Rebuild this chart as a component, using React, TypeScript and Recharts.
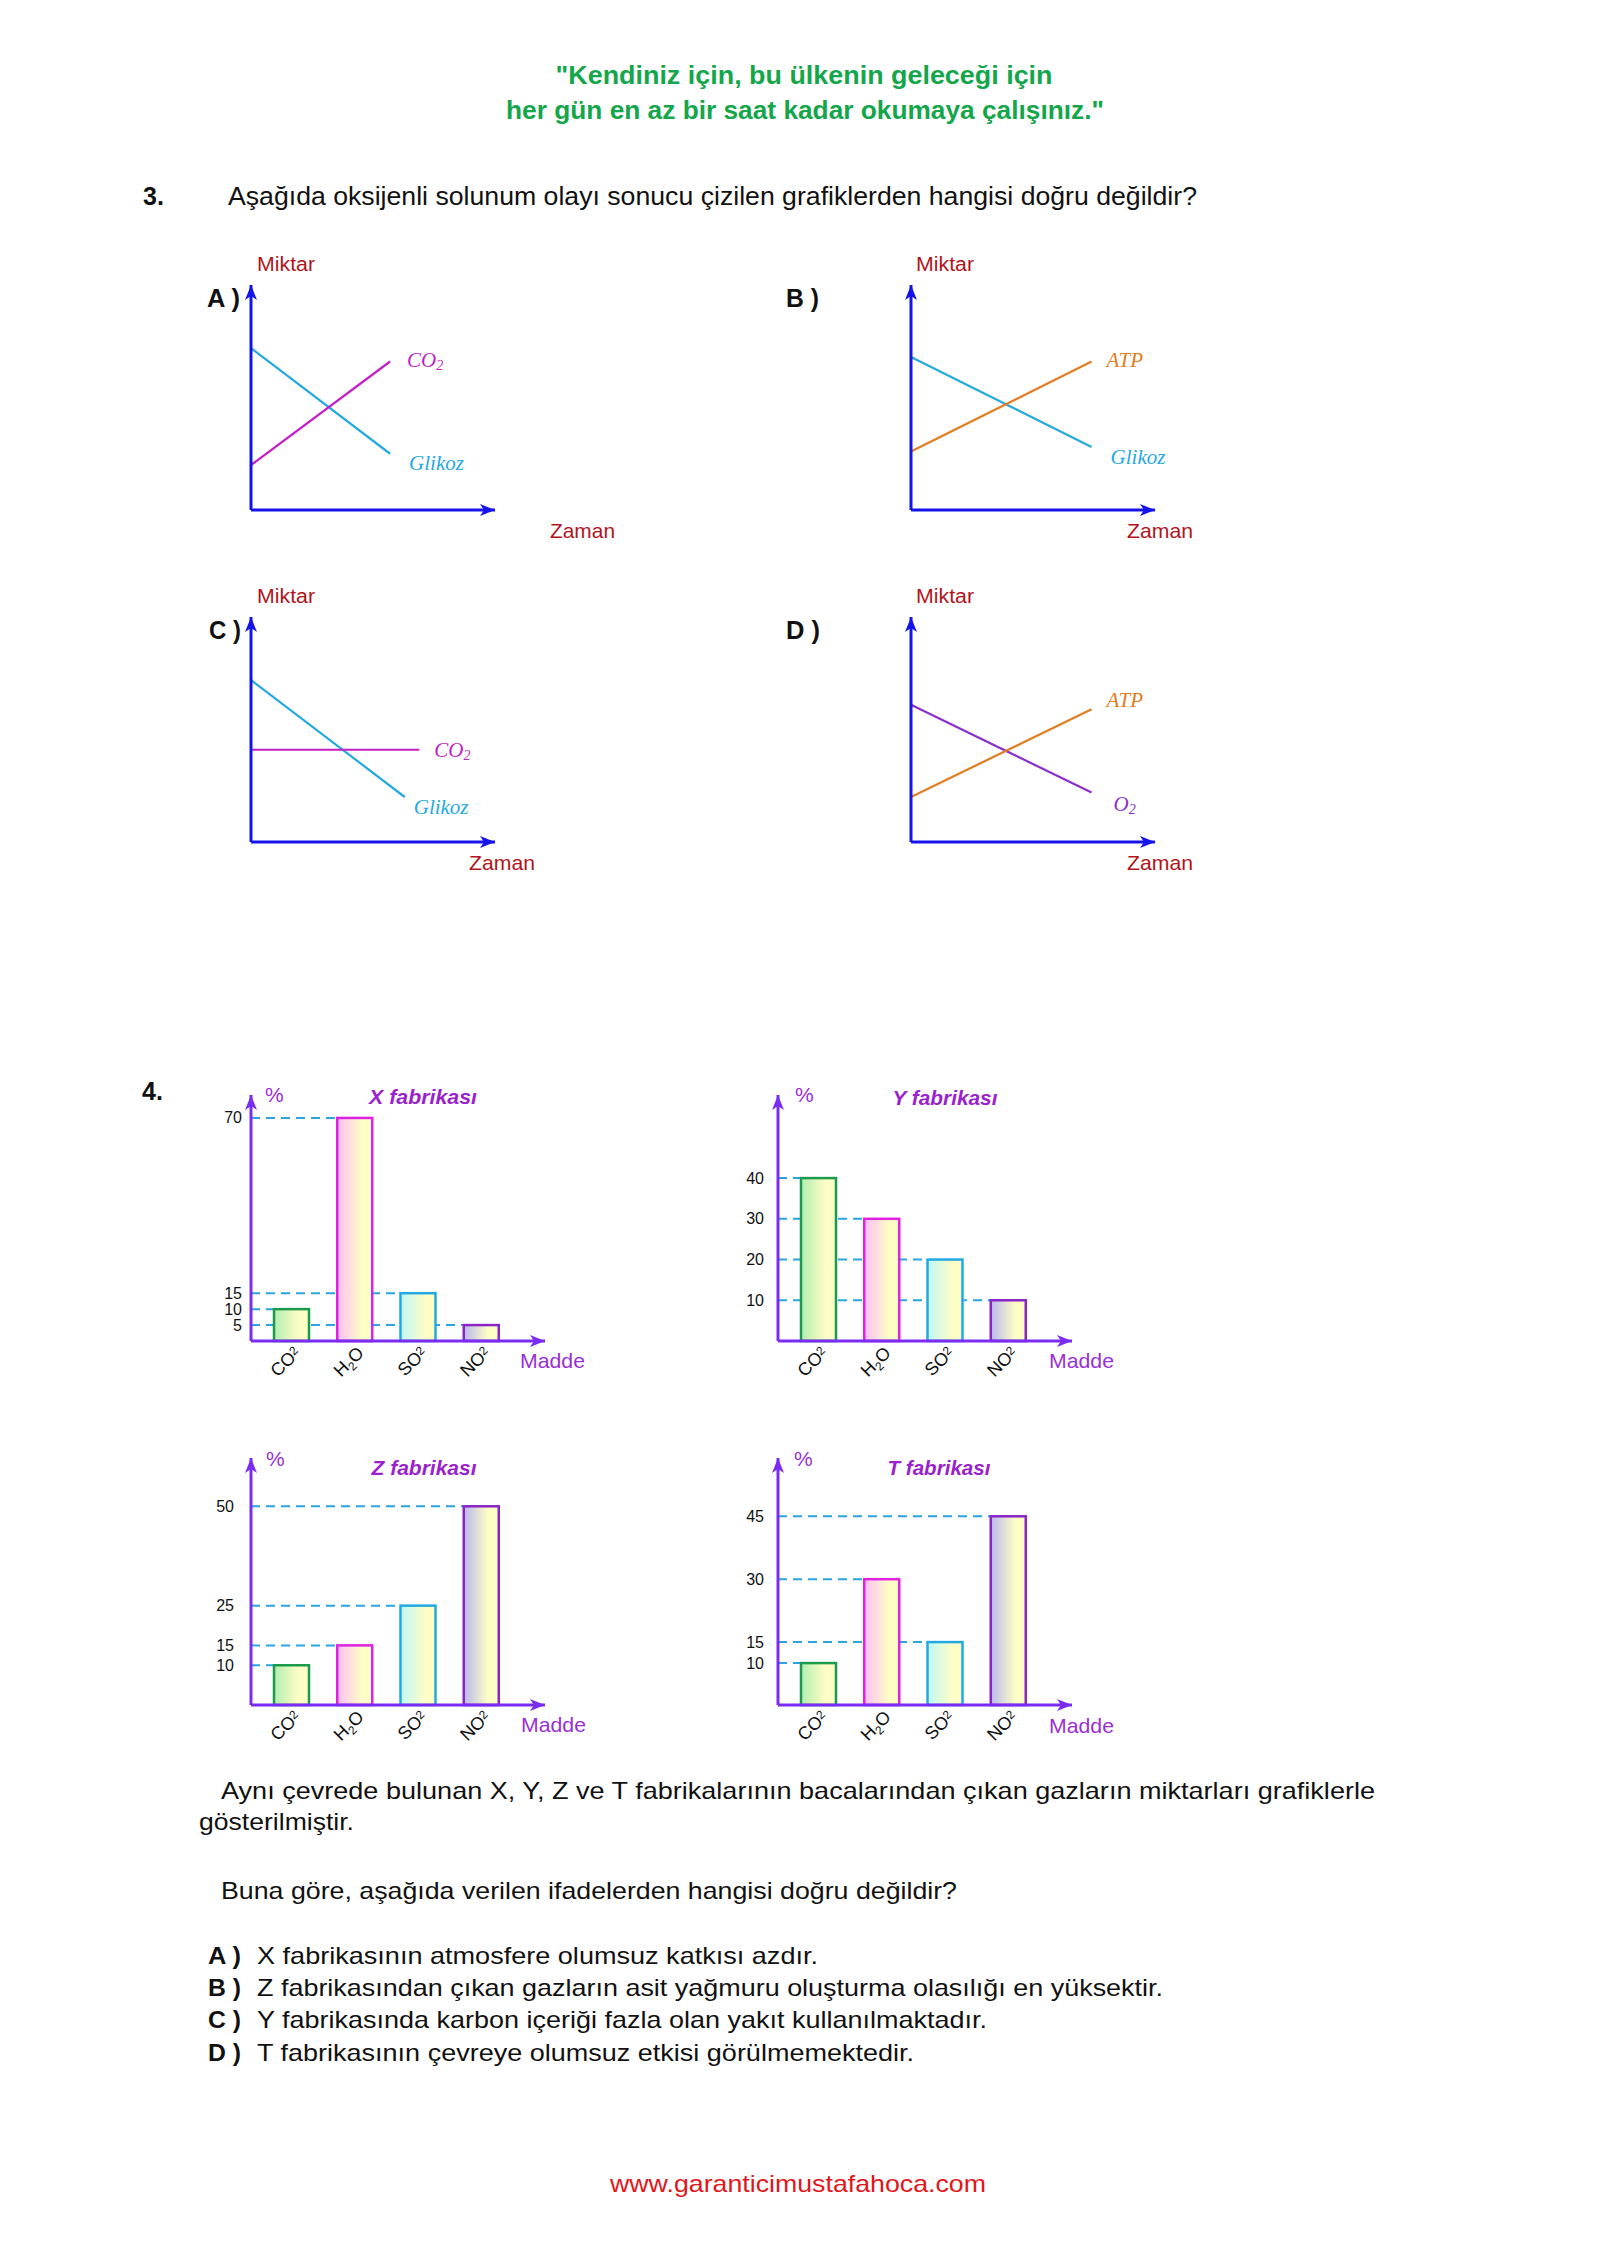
import React from 'react';
import { LineChart, Line, XAxis, YAxis, BarChart, Bar } from 'recharts';

const SANS = '"Liberation Sans", Arial, sans-serif';
const SERIF = '"Liberation Serif", "Times New Roman", serif';

// ---------- Question 3 : line graphs (t = time, v = amount) ----------
const glikozA = [{ t: 0, v: 72 }, { t: 5.7, v: 25 }];
const co2A = [{ t: 0, v: 20 }, { t: 5.7, v: 66 }];
const glikozB = [{ t: 0, v: 68 }, { t: 7.4, v: 28 }];
const atpB = [{ t: 0, v: 26 }, { t: 7.4, v: 66 }];
const glikozC = [{ t: 0, v: 72 }, { t: 6.3, v: 20 }];
const co2C = [{ t: 0, v: 41 }, { t: 6.9, v: 41 }];
const o2D = [{ t: 0, v: 61 }, { t: 7.4, v: 22 }];
const atpD = [{ t: 0, v: 20 }, { t: 7.4, v: 59 }];

// ---------- Question 4 : bar graphs ----------
const gases = ['CO2', 'H2O', 'SO2', 'NO2'];
const xFactory = [10, 70, 15, 5];
const yFactory = [40, 30, 20, 10];
const zFactory = [10, 15, 25, 50];
const tFactory = [10, 30, 15, 45];
const xTicks = [5, 10, 15, 70];
const yTicks = [10, 20, 30, 40];
const zTicks = [10, 15, 25, 50];
const tTicks = [10, 15, 30, 45];

// ---------- colours ----------
const BLUE = '#1414ea';
const CYAN = '#25a9df';
const MAGENTA = '#c21fc4';
const ORANGE = '#e27d22';
const PURPLE_LINE = '#8c2fcc';
const DARKRED = '#b3141c';
const VIOLET = '#7a2cf2';
const TITLE_PURPLE = '#9a22cc';
const LABEL_PURPLE = '#9a2fd5';
const DASH = '#2aa5e0';
const GREEN = '#14a64b';
const RED = '#e2161b';
const INK = '#111111';
const gasStroke = ['#1b9a4c', '#e021df', '#22a9e2', '#8a25c8'];
const gasFill = ['#b3eeb0', '#ffbff7', '#bff9f6', '#b9b9ef'];
const PALE = '#fdfdc6';

type Pt = { t: number; v: number };
type Series = { data: Pt[]; color: string; name: string; sub?: string; dx: number; dy: number };

type TextItem = {
  s: string; x: number; y: number; size: number; color?: string;
  bold?: boolean; italic?: boolean; len?: number; anchor?: 'start' | 'middle' | 'end';
};

const pageTexts: TextItem[] = [
  { s: '"Kendiniz için, bu ülkenin geleceği için', x: 804, y: 84, size: 26, bold: true, color: GREEN, len: 497, anchor: 'middle' },
  { s: 'her gün en az bir saat kadar okumaya çalışınız."', x: 805, y: 119, size: 26, bold: true, color: GREEN, len: 598, anchor: 'middle' },
  { s: '3.', x: 143, y: 205, size: 25, bold: true },
  { s: 'Aşağıda oksijenli solunum olayı sonucu çizilen grafiklerden hangisi doğru değildir?', x: 228, y: 205, size: 25, len: 969 },
  { s: 'Miktar', x: 257, y: 271, size: 20, color: DARKRED, len: 58 },
  { s: 'Miktar', x: 916, y: 271, size: 20, color: DARKRED, len: 58 },
  { s: 'Miktar', x: 257, y: 603, size: 20, color: DARKRED, len: 58 },
  { s: 'Miktar', x: 916, y: 603, size: 20, color: DARKRED, len: 58 },
  { s: 'A )', x: 207, y: 307, size: 25, bold: true, len: 33 },
  { s: 'B )', x: 786, y: 307, size: 25, bold: true, len: 33 },
  { s: 'C )', x: 209, y: 639, size: 25, bold: true, len: 32 },
  { s: 'D )', x: 786, y: 639, size: 25, bold: true, len: 34 },
  { s: 'Zaman', x: 550, y: 538, size: 21, color: DARKRED, len: 65 },
  { s: 'Zaman', x: 1127, y: 538, size: 21, color: DARKRED, len: 66 },
  { s: 'Zaman', x: 469, y: 870, size: 21, color: DARKRED, len: 66 },
  { s: 'Zaman', x: 1127, y: 870, size: 21, color: DARKRED, len: 66 },
  { s: '4.', x: 142, y: 1100, size: 25, bold: true },
  { s: '%', x: 265, y: 1102, size: 21, color: LABEL_PURPLE },
  { s: '%', x: 795, y: 1102, size: 21, color: LABEL_PURPLE },
  { s: '%', x: 266, y: 1466, size: 21, color: LABEL_PURPLE },
  { s: '%', x: 794, y: 1466, size: 21, color: LABEL_PURPLE },
  { s: 'X fabrikası', x: 423, y: 1104, size: 21, bold: true, italic: true, color: TITLE_PURPLE, len: 108, anchor: 'middle' },
  { s: 'Y fabrikası', x: 945, y: 1105, size: 21, bold: true, italic: true, color: TITLE_PURPLE, len: 105, anchor: 'middle' },
  { s: 'Z fabrikası', x: 424, y: 1475, size: 21, bold: true, italic: true, color: TITLE_PURPLE, len: 105, anchor: 'middle' },
  { s: 'T fabrikası', x: 939, y: 1475, size: 21, bold: true, italic: true, color: TITLE_PURPLE, len: 103, anchor: 'middle' },
  { s: 'Madde', x: 520, y: 1368, size: 21, color: LABEL_PURPLE, len: 65 },
  { s: 'Madde', x: 1049, y: 1368, size: 21, color: LABEL_PURPLE, len: 65 },
  { s: 'Madde', x: 521, y: 1732, size: 21, color: LABEL_PURPLE, len: 65 },
  { s: 'Madde', x: 1049, y: 1733, size: 21, color: LABEL_PURPLE, len: 65 },
  { s: 'Aynı çevrede bulunan X, Y, Z ve T fabrikalarının bacalarından çıkan gazların miktarları grafiklerle', x: 221, y: 1799, size: 24, len: 1154 },
  { s: 'gösterilmiştir.', x: 199, y: 1830, size: 24, len: 155 },
  { s: 'Buna göre, aşağıda verilen ifadelerden hangisi doğru değildir?', x: 221, y: 1899, size: 24, len: 736 },
  { s: 'A )', x: 208, y: 1964, size: 24, bold: true, len: 33 },
  { s: 'B )', x: 208, y: 1996, size: 24, bold: true, len: 33 },
  { s: 'C )', x: 208, y: 2028, size: 24, bold: true, len: 33 },
  { s: 'D )', x: 208, y: 2061, size: 24, bold: true, len: 33 },
  { s: 'X fabrikasının atmosfere olumsuz katkısı azdır.', x: 257, y: 1964, size: 24, len: 561 },
  { s: 'Z fabrikasından çıkan gazların asit yağmuru oluşturma olasılığı en yüksektir.', x: 257, y: 1996, size: 24, len: 906 },
  { s: 'Y fabrikasında karbon içeriği fazla olan yakıt kullanılmaktadır.', x: 257, y: 2028, size: 24, len: 730 },
  { s: 'T fabrikasının çevreye olumsuz etkisi görülmemektedir.', x: 257, y: 2061, size: 24, len: 657 },
  { s: 'www.garanticimustafahoca.com', x: 798, y: 2192, size: 24, color: RED, len: 376, anchor: 'middle' },
];

function PageText() {
  return (
    <svg width={1600} height={2262} style={{ position: 'absolute', left: 0, top: 0 }}>
      <defs>
        <marker id="arrBlue" viewBox="0 0 15 12" refX={15} refY={6} markerWidth={15} markerHeight={12}
          markerUnits="userSpaceOnUse" orient="auto-start-reverse">
          <path d="M0,0 L15,6 L0,12 L4,6 Z" fill={BLUE} />
        </marker>
        <marker id="arrViolet" viewBox="0 0 15 12" refX={15} refY={6} markerWidth={15} markerHeight={12}
          markerUnits="userSpaceOnUse" orient="auto-start-reverse">
          <path d="M0,0 L15,6 L0,12 L4,6 Z" fill={VIOLET} />
        </marker>
        {gasFill.map((c, i) => (
          <linearGradient key={i} id={`gasGrad${i}`} x1="0" y1="0" x2="1" y2="0">
            <stop offset="0" stopColor={c} />
            <stop offset="0.7" stopColor={PALE} />
            <stop offset="1" stopColor={PALE} />
          </linearGradient>
        ))}
      </defs>
      {pageTexts.map((t, i) => (
        <text key={i} x={t.x} y={t.y} fontFamily={SANS} fontSize={t.size}
          fontWeight={t.bold ? 'bold' : 'normal'} fontStyle={t.italic ? 'italic' : 'normal'}
          fill={t.color || INK} textAnchor={t.anchor || 'start'}
          {...(t.len ? { textLength: t.len, lengthAdjust: 'spacingAndGlyphs' } : {})}>
          {t.s}
        </text>
      ))}
    </svg>
  );
}

function endLabel(s: Series) {
  return (p: any) => {
    if (p.index !== s.data.length - 1) return <g key={`d${p.index}`} />;
    return (
      <text key={`d${p.index}`} x={p.cx + s.dx} y={p.cy + s.dy} dominantBaseline="central"
        fontFamily={SERIF} fontStyle="italic" fontSize={21} fill={s.color}>
        {s.name}
        {s.sub ? <tspan dy={5} fontSize={14}>{s.sub}</tspan> : null}
      </text>
    );
  };
}

function TimeGraph({ left, top, series }: { left: number; top: number; series: Series[] }) {
  return (
    <div style={{ position: 'absolute', left, top }}>
      <LineChart width={284} height={265} margin={{ top: 20, right: 20, left: 10, bottom: 10 }}>
        <XAxis type="number" dataKey="t" domain={[0, 10]} tick={false} tickLine={false} height={10}
          axisLine={{ stroke: BLUE, strokeWidth: 3, markerEnd: 'url(#arrBlue)' }} />
        <YAxis type="number" domain={[0, 100]} tick={false} tickLine={false} width={10}
          axisLine={{ stroke: BLUE, strokeWidth: 3, markerStart: 'url(#arrBlue)' }} />
        {series.map((s) => (
          <Line key={s.name + s.color} data={s.data} dataKey="v" type="linear" stroke={s.color}
            strokeWidth={2.2} dot={endLabel(s)} activeDot={false} isAnimationActive={false} />
        ))}
      </LineChart>
    </div>
  );
}

function gasText(g: string) {
  if (g === 'H2O') {
    return [
      <tspan key="a">H</tspan>,
      <tspan key="b" dy={4} fontSize={12}>2</tspan>,
      <tspan key="c" dy={-4}>O</tspan>,
    ];
  }
  return [
    <tspan key="a">{g.slice(0, 2)}</tspan>,
    <tspan key="b" dy={-4} fontSize={12}>2</tspan>,
  ];
}

function GasTick(p: any) {
  const g = String(p.payload.value);
  return (
    <g transform={`translate(${p.x + 10},${p.y + 13})`}>
      <text transform="rotate(-45)" textAnchor="end" fontFamily={SANS} fontSize={18} fill={INK}>
        {gasText(g)}
      </text>
    </g>
  );
}

const numTick = (gap: number) => (p: any) => (
  <text x={p.x - gap} y={p.y} textAnchor="end" dominantBaseline="central"
    fontFamily={SANS} fontSize={16} fill={INK}>
    {p.payload.value}
  </text>
);

const YW = 60;
const dashShape = (p: any) => (
  <line x1={YW} y1={p.y} x2={p.x} y2={p.y} stroke={DASH} strokeWidth={2} strokeDasharray="9 6" />
);
const gasBar = (p: any) => (
  <rect x={p.x} y={p.y} width={p.width} height={p.height} fill={`url(#gasGrad${p.index})`}
    stroke={gasStroke[p.index]} strokeWidth={2.5} />
);

function FactoryGraph({ left, top, plotH, values, ticks, domainMax, gap }:
  { left: number; top: number; plotH: number; values: number[]; ticks: number[]; domainMax: number; gap: number }) {
  const rows = gases.map((g, i) => ({ gas: g, value: values[i] }));
  const MT = 20, XH = 60, PW = 294, MR = 20;
  return (
    <div style={{ position: 'absolute', left, top }}>
      <BarChart width={YW + PW + MR} height={MT + plotH + XH} data={rows}
        margin={{ top: MT, right: MR, left: 0, bottom: 0 }}>
        <XAxis xAxisId="main" dataKey="gas" type="category" padding={{ left: 9, right: 32 }} height={XH}
          tickLine={false} tickSize={0} tickMargin={0} interval={0} tick={<GasTick />}
          axisLine={{ stroke: VIOLET, strokeWidth: 3, markerEnd: 'url(#arrViolet)' }} />
        <XAxis xAxisId="dash" dataKey="gas" type="category" padding={{ left: 9, right: 32 }} height={0} hide />
        <YAxis type="number" domain={[0, domainMax]} ticks={ticks} width={YW} interval={0}
          tickLine={false} tickSize={0} tickMargin={0} tick={numTick(gap)}
          axisLine={{ stroke: VIOLET, strokeWidth: 3, markerStart: 'url(#arrViolet)' }} />
        <Bar xAxisId="dash" dataKey="value" barSize={35} isAnimationActive={false} shape={dashShape} />
        <Bar xAxisId="main" dataKey="value" barSize={35} isAnimationActive={false} shape={gasBar} />
      </BarChart>
    </div>
  );
}

export default function App() {
  return (
    <div style={{ position: 'absolute', left: 0, top: 0, width: 1600, height: 2262, background: '#ffffff', overflow: 'hidden' }}>
      <PageText />
      <TimeGraph left={231} top={265} series={[
        { data: glikozA, color: CYAN, name: 'Glikoz', dx: 19, dy: 9 },
        { data: co2A, color: MAGENTA, name: 'CO', sub: '2', dx: 17, dy: -2 },
      ]} />
      <TimeGraph left={891} top={265} series={[
        { data: glikozB, color: CYAN, name: 'Glikoz', dx: 19, dy: 10 },
        { data: atpB, color: ORANGE, name: 'ATP', dx: 15, dy: -2 },
      ]} />
      <TimeGraph left={231} top={597} series={[
        { data: glikozC, color: CYAN, name: 'Glikoz', dx: 9, dy: 10 },
        { data: co2C, color: MAGENTA, name: 'CO', sub: '2', dx: 15, dy: 0 },
      ]} />
      <TimeGraph left={891} top={597} series={[
        { data: o2D, color: PURPLE_LINE, name: 'O', sub: '2', dx: 22, dy: 11 },
        { data: atpD, color: ORANGE, name: 'ATP', dx: 15, dy: -9 },
      ]} />
      <FactoryGraph left={191} top={1075} plotH={246} values={xFactory} ticks={xTicks} domainMax={77.2} gap={9} />
      <FactoryGraph left={718} top={1075} plotH={246} values={yFactory} ticks={yTicks} domainMax={60.4} gap={14} />
      <FactoryGraph left={191} top={1438} plotH={247} values={zFactory} ticks={zTicks} domainMax={62.15} gap={17} />
      <FactoryGraph left={718} top={1438} plotH={247} values={tFactory} ticks={tTicks} domainMax={58.9} gap={14} />
    </div>
  );
}
